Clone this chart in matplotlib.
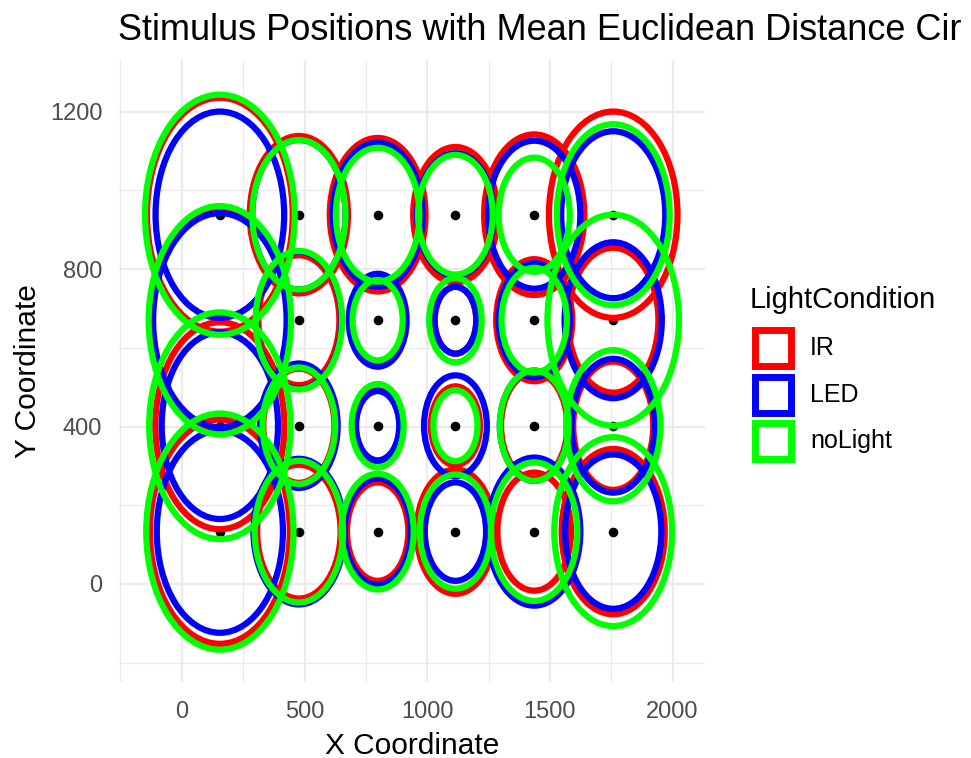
import matplotlib
matplotlib.use("Agg")
import matplotlib.pyplot as plt
from matplotlib.patches import Circle, Rectangle

plt.rcParams['font.family'] = ['Liberation Sans', 'DejaVu Sans']

# stimulus positions (column-major: each column bottom -> top)
stim_x = [155, 155, 155, 155, 477, 477, 477, 477, 798, 798, 798, 798,
          1115, 1115, 1115, 1115, 1436, 1436, 1436, 1436, 1758, 1758, 1758, 1758]
stim_y = [133, 402, 670, 938] * 6

conditions = ['IR', 'LED', 'noLight']
cond_colors = ['#FF0000', '#0000FF', '#00FF00']

# mean euclidean distance per stimulus, per light condition
r_ir = [285, 263, 280, 297, 170, 145, 165, 200, 125, 90, 110, 195,
        158, 100, 85, 172, 150, 135, 155, 204, 210, 163, 184, 262]
r_led = [257, 237, 272, 262, 185, 158, 174, 190, 135, 88, 118, 183,
         125, 128, 85, 156, 188, 140, 145, 188, 196, 170, 198, 212]
r_nolight = [300, 288, 290, 305, 180, 148, 176, 190, 147, 106, 102, 170,
             145, 90, 107, 152, 176, 140, 133, 145, 240, 192, 268, 230]
radii = [r_ir, r_led, r_nolight]

x_ticks = [0, 500, 1000, 1500, 2000]
y_ticks = [0, 400, 800, 1200]

fig = plt.figure(figsize=(9.71, 7.58), dpi=100)
ax = fig.add_axes([119/971, 1 - 682/758, (705-119)/971, (682-60)/758])

ax.scatter(stim_x, stim_y, s=48, color='black', zorder=3, linewidths=0)

for cond, col, rr in zip(conditions, cond_colors, radii):
    for x, y, r in zip(stim_x, stim_y, rr):
        ax.add_patch(Circle((x, y), r, fill=False, edgecolor=col, lw=4.5, zorder=4))

ax.set_xlim(-256, 2132)
ax.set_ylim(-249, 1331)

ax.set_xticks(x_ticks)
ax.set_yticks(y_ticks)
ax.set_xticks([-250, 250, 750, 1250, 1750], minor=True)
ax.set_yticks([-200, 200, 600, 1000], minor=True)
ax.grid(which='major', color='#EBEBEB', lw=1.6)
ax.grid(which='minor', color='#EBEBEB', lw=0.9)
ax.set_axisbelow(True)
for s in ax.spines.values():
    s.set_visible(False)
ax.tick_params(which='both', length=0, labelsize=17, labelcolor='#4D4D4D')
ax.tick_params(axis='x', pad=14)
ax.tick_params(axis='y', pad=12)

ax.set_xlabel('X Coordinate', fontsize=21.5, labelpad=6)
ax.set_ylabel('Y Coordinate', fontsize=21.5, labelpad=6)
fig.text(118/971, 1 - 31/758, 'Stimulus Positions with Mean Euclidean Distance Cir',
         fontsize=26, ha='left', va='center')

# legend
fig.text(750/971, 1 - 300/758, 'LightCondition', fontsize=21, ha='left', va='center')
for i, (cond, col) in enumerate(zip(conditions, cond_colors)):
    yc = 348 + i * 46.7
    fig.add_artist(Rectangle((755/971, 1 - (yc + 18)/758), 36/971, 36/758,
                             transform=fig.transFigure, fill=False,
                             edgecolor=col, lw=5))
    fig.text(810/971, 1 - yc/758, cond, fontsize=18, ha='left', va='center')

fig.savefig('out.png', dpi=100)
